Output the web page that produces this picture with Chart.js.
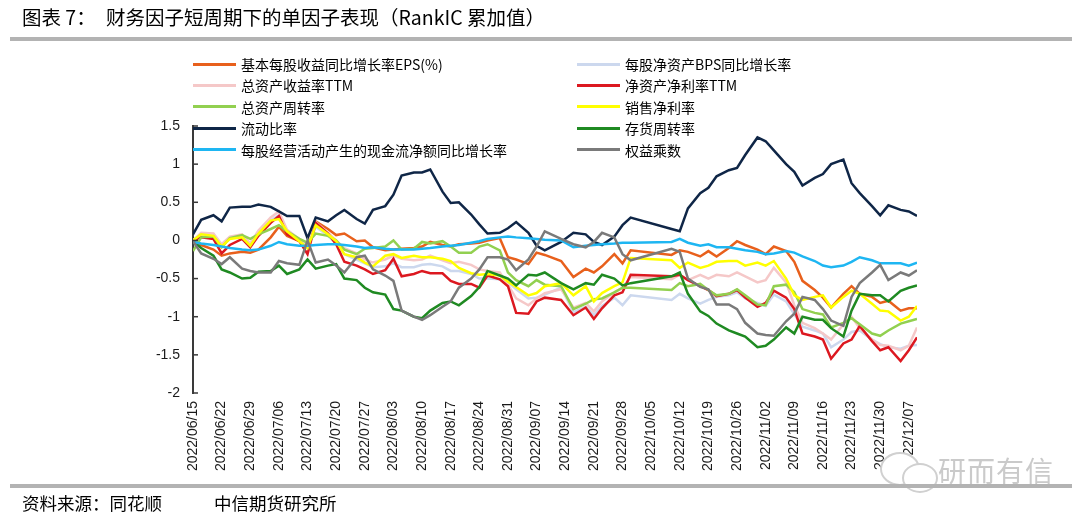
<!DOCTYPE html>
<html lang="zh-CN">
<head>
<meta charset="utf-8">
<title>财务因子短周期下的单因子表现</title>
<script src="https://cdn.jsdelivr.net/npm/chart.js@4.4.1/dist/chart.umd.min.js"></script>
<style>
    html, body { margin: 0; padding: 0; background: #fff; }
    #page { position: relative; width: 1080px; height: 517px; overflow: hidden; font-family: "Noto Sans CJK SC", "Liberation Sans", sans-serif; color: #000; }
    #chart { position: absolute; left: 0; top: 0; }
    .txt { position: absolute; white-space: nowrap; line-height: 1; }
    .rule { position: absolute; left: 10px; width: 1062px; height: 4px; background: #b3b3b3; }
    .leg { position: absolute; height: 20px; display: flex; align-items: center; font-size: 14px; white-space: nowrap; }
    .leg i { display: inline-block; width: 43px; height: 3px; margin-right: 5px; }
    .mark { position: absolute; color: #cacaca; font-size: 28px; letter-spacing: 1px; }
    .bubble { position: absolute; border: 2px solid #d0d0d0; border-radius: 50%; background: #fff; }
</style>
</head>
<body>
<div id="page">
    <canvas id="chart" width="1080" height="517"></canvas>
    <div class="txt" style="left:22px; top:7px; font-size:19.5px;">图表 7：</div>
    <div class="txt" style="left:106px; top:7px; font-size:19.5px;">财务因子短周期下的单因子表现（RankIC 累加值）</div>
    <div class="rule" style="top:37px;"></div>
    <div id="legend"></div>
    <div class="bubble" style="left:880px; top:452px; width:36px; height:30px;"></div>
    <div class="bubble" style="left:902px; top:463px; width:32px; height:26px;"></div>
    <div class="txt mark" style="left:938px; top:456px;">研而有信</div>
    <div class="rule" style="top:484px;"></div>
    <div class="txt" style="left:22px; top:494px; font-size:17.5px;">资料来源：同花顺</div>
    <div class="txt" style="left:214px; top:494px; font-size:17.5px;">中信期货研究所</div>
</div>
<script>
// ---------------- Data ----------------
const dates = [
    '2022/06/15', '2022/06/17', '2022/06/20', '2022/06/22', '2022/06/24', '2022/06/27', '2022/06/29',
    '2022/07/01', '2022/07/04', '2022/07/06', '2022/07/08', '2022/07/11', '2022/07/13', '2022/07/15',
    '2022/07/18', '2022/07/20', '2022/07/22', '2022/07/25', '2022/07/27', '2022/07/29',
    '2022/08/01', '2022/08/03', '2022/08/05', '2022/08/08', '2022/08/10', '2022/08/12', '2022/08/15',
    '2022/08/17', '2022/08/19', '2022/08/22', '2022/08/24', '2022/08/26', '2022/08/29', '2022/08/31',
    '2022/09/02', '2022/09/05', '2022/09/07', '2022/09/09', '2022/09/13', '2022/09/16', '2022/09/19',
    '2022/09/21', '2022/09/23', '2022/09/26', '2022/09/28', '2022/09/30',
    '2022/10/10', '2022/10/12', '2022/10/14', '2022/10/17', '2022/10/19', '2022/10/21', '2022/10/24',
    '2022/10/26', '2022/10/28', '2022/10/31',
    '2022/11/02', '2022/11/04', '2022/11/07', '2022/11/09', '2022/11/11', '2022/11/14', '2022/11/16',
    '2022/11/18', '2022/11/21', '2022/11/23', '2022/11/25', '2022/11/28', '2022/11/30',
    '2022/12/02', '2022/12/05', '2022/12/07', '2022/12/09'
];

const seriesNames = [
    '基本每股收益同比增长率EPS(%)', '每股净资产BPS同比增长率',
    '总资产收益率TTM', '净资产净利率TTM',
    '总资产周转率', '销售净利率',
    '流动比率', '存货周转率',
    '每股经营活动产生的现金流净额同比增长率', '权益乘数'
];
const seriesColors = [
    '#E8601C', '#CCD8EE',
    '#F5C8C8', '#DC1820',
    '#92D050', '#FFFF00',
    '#0F2647', '#1F8A22',
    '#1EB6F2', '#7A7A7A'
];

const epsGrowth = [
    -0.01, -0.06, -0.12, -0.20, -0.17, -0.15, -0.16,
    -0.12, 0.04, 0.18, 0.06, -0.01, -0.06, 0.25, 0.15, 0.07, 0.09, -0.01, 0.00, -0.09,
    -0.13, -0.12, -0.11, -0.10, -0.08, -0.02, -0.06, -0.08, -0.05, -0.04, -0.03, 0.00, 0.03, -0.22,
    -0.25, -0.31, -0.16, -0.19, -0.27, -0.48, -0.37, -0.42, -0.34, -0.18, -0.30, -0.13,
    -0.19, -0.13, -0.15, -0.21, -0.14, -0.21, -0.10, -0.01, -0.06, -0.12,
    -0.18, -0.08, -0.14, -0.28, -0.53, -0.65, -0.75, -0.88, -0.70, -0.60, -0.70, -0.74, -0.82,
    -0.79, -0.92, -0.89, -0.89
];
const bpsGrowth = [
    0.00, 0.07, 0.06, -0.06, 0.03, 0.05, -0.05,
    0.10, 0.26, 0.33, 0.12, 0.00, -0.10, 0.18, 0.06, -0.04, -0.18, -0.25, -0.30, -0.35,
    -0.34, -0.30, -0.35, -0.35, -0.32, -0.31, -0.34, -0.40, -0.40, -0.44, -0.50, -0.50, -0.51, -0.55,
    -0.64, -0.76, -0.75, -0.71, -0.62, -0.94, -0.87, -0.98, -0.86, -0.75, -0.85, -0.72,
    -0.78, -0.70, -0.76, -0.83, -0.78, -0.74, -0.72, -0.68, -0.76, -0.82,
    -0.86, -0.71, -0.80, -0.97, -1.13, -1.18, -1.22, -1.40, -1.30, -1.20, -1.18, -1.30, -1.36,
    -1.40, -1.42, -1.38, -1.37
];
const roaTtm = [
    0.00, 0.10, 0.09, -0.05, 0.05, 0.08, -0.04,
    0.13, 0.30, 0.38, 0.14, 0.02, -0.06, 0.24, 0.10, 0.00, -0.10, -0.17, -0.25, -0.29,
    -0.25, -0.20, -0.24, -0.26, -0.25, -0.20, -0.26, -0.30, -0.28, -0.32, -0.38, -0.40, -0.42, -0.58,
    -0.76, -0.85, -0.76, -0.69, -0.64, -0.88, -0.82, -0.93, -0.80, -0.68, -0.62, -0.48,
    -0.51, -0.45, -0.52, -0.45, -0.50, -0.45, -0.47, -0.42, -0.47, -0.55,
    -0.52, -0.36, -0.55, -0.85, -1.08, -1.15, -1.22, -1.30, -1.10, -1.00, -1.15, -1.30, -1.37,
    -1.38, -1.44, -1.38, -1.14
];
const roeTtm = [
    0.00, 0.04, 0.02, -0.17, -0.06, 0.02, -0.09,
    0.06, 0.23, 0.32, 0.08, -0.01, -0.18, 0.23, 0.09, -0.05, -0.28, -0.33, -0.38, -0.44,
    -0.39, -0.24, -0.47, -0.44, -0.40, -0.43, -0.43, -0.53, -0.57, -0.57, -0.62, -0.46, -0.51, -0.60,
    -0.95, -0.96, -0.80, -0.75, -0.78, -0.98, -0.88, -1.03, -0.89, -0.72, -0.68, -0.45,
    -0.47, -0.45, -0.52, -0.60, -0.65, -0.73, -0.70, -0.65, -0.75, -0.87,
    -0.82, -0.66, -0.75, -0.90, -1.22, -1.26, -1.30, -1.55, -1.35, -1.30, -1.12, -1.32, -1.44,
    -1.40, -1.58, -1.44, -1.27
];
const assetTurnover = [
    -0.14, 0.04, 0.05, -0.09, 0.03, 0.07, 0.02,
    0.08, 0.15, 0.20, 0.12, 0.02, -0.03, 0.09, 0.06, 0.00, -0.12, -0.18, -0.11, -0.10,
    -0.08, 0.00, -0.12, -0.11, -0.02, -0.04, -0.01, -0.08, -0.16, -0.16, -0.08, -0.05, -0.13, -0.42,
    -0.52, -0.60, -0.52, -0.58, -0.60, -0.90, -0.83, -0.77, -0.76, -0.68, -0.62, -0.62,
    -0.65, -0.56, -0.60, -0.57, -0.65, -0.72, -0.70, -0.64, -0.72, -0.84,
    -0.85, -0.60, -0.58, -0.68, -0.90, -0.95, -0.97, -1.14, -1.08, -1.02, -1.10, -1.22, -1.25,
    -1.18, -1.09, -1.06, -1.03
];
const netMargin = [
    0.00, 0.08, 0.06, -0.08, 0.02, 0.04, -0.07,
    0.09, 0.26, 0.28, 0.12, -0.01, -0.10, 0.20, 0.08, -0.01, -0.18, -0.22, -0.29, -0.34,
    -0.20, -0.18, -0.23, -0.20, -0.22, -0.22, -0.24, -0.27, -0.36, -0.43, -0.45, -0.44, -0.46, -0.54,
    -0.61, -0.72, -0.69, -0.60, -0.56, -0.72, -0.60, -0.80, -0.69, -0.60, -0.55, -0.23,
    -0.26, -0.36, -0.29, -0.36, -0.33, -0.28, -0.27, -0.27, -0.33, -0.29,
    -0.33, -0.27, -0.50, -0.72, -0.78, -0.74, -0.72, -0.88, -0.74, -0.66, -0.70, -0.83, -0.92,
    -0.93, -1.05, -1.00, -0.86
];
const currentRatio = [
    0.08, 0.27, 0.33, 0.25, 0.43, 0.44, 0.44,
    0.47, 0.44, 0.38, 0.32, 0.32, 0.03, 0.30, 0.25, 0.33, 0.40, 0.28, 0.22, 0.40,
    0.45, 0.60, 0.85, 0.89, 0.89, 0.93, 0.64, 0.49, 0.50, 0.34, 0.21, 0.09, 0.10, 0.16,
    0.24, 0.10, -0.07, -0.13, -0.02, 0.10, 0.08, -0.02, -0.06, 0.05, 0.20, 0.30,
    0.15, 0.12, 0.42, 0.62, 0.69, 0.84, 0.92, 0.95, 1.12, 1.35,
    1.30, 1.18, 1.00, 0.90, 0.72, 0.82, 0.87, 1.00, 1.06, 0.75, 0.62, 0.45, 0.33,
    0.46, 0.40, 0.38, 0.32
];
const inventoryTurnover = [
    -0.01, -0.10, -0.20, -0.38, -0.42, -0.50, -0.49,
    -0.41, -0.40, -0.33, -0.44, -0.38, -0.25, -0.37, -0.33, -0.31, -0.50, -0.52, -0.62, -0.68,
    -0.71, -0.90, -0.92, -1.00, -1.02, -0.92, -0.82, -0.80, -0.85, -0.73, -0.61, -0.40, -0.46, -0.50,
    -0.59, -0.45, -0.46, -0.42, -0.56, -0.64, -0.56, -0.58, -0.45, -0.50, -0.59, -0.56,
    -0.47, -0.42, -0.70, -0.93, -0.99, -1.09, -1.18, -1.22, -1.26, -1.40,
    -1.38, -1.30, -1.14, -1.22, -1.00, -1.04, -1.04, -1.15, -1.26, -0.92, -0.70, -0.72, -0.72,
    -0.80, -0.66, -0.62, -0.59
];
const cashFlowGrowth = [
    -0.02, -0.04, -0.06, -0.08, -0.10, -0.12, -0.13,
    -0.12, -0.07, -0.02, -0.05, -0.07, -0.07, -0.06, -0.05, -0.05, -0.06, -0.08, -0.10, -0.09,
    -0.11, -0.12, -0.12, -0.12, -0.11, -0.10, -0.08, -0.07, -0.06, -0.03, -0.01, 0.02, 0.04, 0.05,
    0.04, 0.03, 0.02, 0.01, 0.00, -0.09, -0.07, -0.06, -0.05, -0.04, -0.03, -0.03,
    -0.02, 0.02, -0.03, -0.07, -0.05, -0.09, -0.09, -0.11, -0.13, -0.15,
    -0.18, -0.17, -0.14, -0.16, -0.21, -0.27, -0.33, -0.35, -0.33, -0.28, -0.22, -0.26, -0.30,
    -0.30, -0.30, -0.33, -0.29
];
const equityMultiplier = [
    -0.01, -0.17, -0.24, -0.31, -0.22, -0.37, -0.40,
    -0.42, -0.42, -0.27, -0.30, -0.32, 0.00, -0.29, -0.25, -0.33, -0.42, -0.22, -0.20, -0.38,
    -0.46, -0.53, -0.92, -1.00, -1.04, -0.98, -0.87, -0.80, -0.62, -0.50, -0.38, -0.22, -0.22, -0.25,
    -0.39, -0.25, -0.08, 0.12, 0.02, -0.05, -0.09, -0.02, 0.10, 0.04, -0.18, -0.26,
    -0.11, -0.15, -0.50, -0.61, -0.64, -0.84, -0.84, -0.90, -1.08, -1.22,
    -1.24, -1.25, -1.06, -0.96, -0.74, -0.78, -0.90, -1.05, -1.12, -0.74, -0.56, -0.42, -0.32,
    -0.52, -0.42, -0.46, -0.39
];

const seriesValues = [
    epsGrowth, bpsGrowth, roaTtm, roeTtm, assetTurnover,
    netMargin, currentRatio, inventoryTurnover, cashFlowGrowth, equityMultiplier
];

const yTicks = [-2, -1.5, -1, -0.5, 0, 0.5, 1, 1.5];
const firstDay = '2022/06/15';
const lastDay = '2022/12/09';

// ---------------- Date helpers (x axis = calendar days) ----------------
function toDay(str) {
    const [y, m, d] = str.split('/').map(Number);
    const [y0, m0, d0] = firstDay.split('/').map(Number);
    return Math.round((Date.UTC(y, m - 1, d) - Date.UTC(y0, m0 - 1, d0)) / 86400000);
}
function dayLabel(n) {
    const [y0, m0, d0] = firstDay.split('/').map(Number);
    const t = new Date(Date.UTC(y0, m0 - 1, d0) + n * 86400000);
    const mm = String(t.getUTCMonth() + 1).padStart(2, '0');
    const dd = String(t.getUTCDate()).padStart(2, '0');
    return `${t.getUTCFullYear()}/${mm}/${dd}`;
}

// ---------------- Legend (two columns, as in the report) ----------------
function buildLegend() {
    const box = document.getElementById('legend');
    seriesNames.forEach((name, i) => {
        const row = Math.floor(i / 2);
        const col = i % 2;
        const item = document.createElement('div');
        item.className = 'leg';
        item.style.left = (col === 0 ? 193 : 577) + 'px';
        item.style.top = (54 + row * 21.4) + 'px';
        item.innerHTML = `<i style="background:${seriesColors[i]}"></i><span>${name}</span>`;
        box.appendChild(item);
    });
}

// ---------------- Inner tick marks on the value axis ----------------
const AXIS_COLOR = '#3a3a3a';
const innerTicks = {
    id: 'innerTicks',
    afterDraw(chart) {
        const yScale = chart.scales.y;
        const ctx = chart.ctx;
        const left = chart.chartArea.left;
        ctx.save();
        ctx.strokeStyle = AXIS_COLOR;
        ctx.lineWidth = 1.5;
        yScale.ticks.forEach(t => {
            const py = yScale.getPixelForValue(t.value);
            ctx.beginPath();
            ctx.moveTo(left, py);
            ctx.lineTo(left + 5, py);
            ctx.stroke();
        });
        ctx.restore();
    }
};

// ---------------- Chart ----------------
function drawChart() {
    const xs = dates.map(toDay);
    const datasets = seriesNames.map((name, i) => ({
        label: name,
        data: xs.map((x, k) => ({ x: x, y: seriesValues[i][k] })),
        borderColor: seriesColors[i],
        backgroundColor: seriesColors[i],
        borderWidth: 2.5,
        pointRadius: 0,
        tension: 0,
        order: -i
    }));

    new Chart(document.getElementById('chart').getContext('2d'), {
        type: 'line',
        data: { datasets: datasets },
        options: {
            responsive: false,
            animation: false,
            events: [],
            layout: { padding: { left: 0, right: 163, top: 126, bottom: 44 } },
            plugins: {
                legend: { display: false },
                tooltip: { enabled: false }
            },
            scales: {
                x: {
                    type: 'linear',
                    min: 0,
                    max: toDay(lastDay),
                    grid: { display: false, drawTicks: false },
                    border: { display: false },
                    afterFit: s => { s.height = 80; },
                    ticks: {
                        stepSize: 7,
                        autoSkip: false,
                        includeBounds: false,
                        minRotation: 90,
                        maxRotation: 90,
                        padding: 8,
                        color: '#1a1a1a',
                        font: { family: "'Liberation Sans', sans-serif", size: 14 },
                        callback: v => dayLabel(v)
                    }
                },
                y: {
                    min: yTicks[0],
                    max: yTicks[yTicks.length - 1],
                    grid: { display: false, drawTicks: false },
                    border: { display: true, color: AXIS_COLOR, width: 2 },
                    afterFit: s => { s.width = 193; },
                    afterBuildTicks: s => { s.ticks = yTicks.map(v => ({ value: v })); },
                    ticks: {
                        padding: 13,
                        color: '#1a1a1a',
                        font: { family: "'Liberation Sans', sans-serif", size: 14 },
                        callback: v => String(v)
                    }
                }
            }
        },
        plugins: [innerTicks]
    });
}

buildLegend();
drawChart();
</script>
</body>
</html>
